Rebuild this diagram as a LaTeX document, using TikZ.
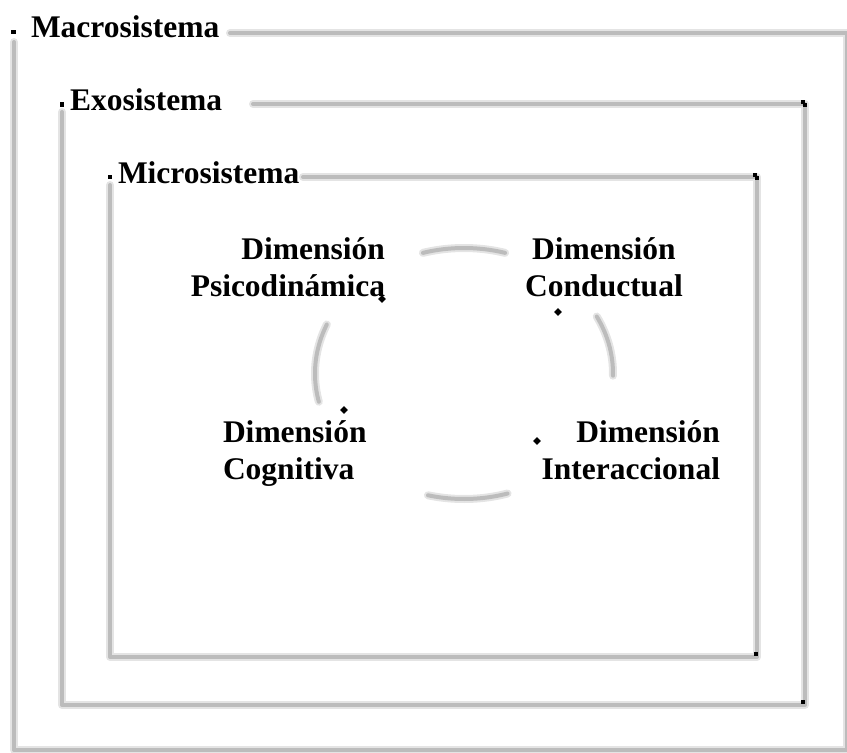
\documentclass[tikz,border=0pt]{standalone}
\usepackage{fontspec}
\setmainfont{Liberation Serif}
\definecolor{lnCore}{RGB}{188,188,188}
\definecolor{lnHalo}{RGB}{228,228,228}
\begin{document}
\begin{tikzpicture}[x=1pt,y=-1pt,
  frame/.style={draw=lnCore, line width=4pt, line join=round, line cap=round,
    preaction={draw=lnHalo, line width=8pt, line join=round, line cap=round}},
  ttl/.style={font=\fontsize{31.5}{37}\selectfont\bfseries, inner sep=0pt, outer sep=0pt},
  sq/.style={fill=black, draw=none, inner sep=0pt, minimum size=4.5pt},
  dia/.style={fill=black, draw=none, inner sep=0pt, minimum size=5.5pt, rotate=45},
]
\useasboundingbox (0,0) rectangle (847,753);

% corner coordinates
\coordinate (maTR) at (847,33);
\coordinate (maBL) at (14,750); \coordinate (maBR) at (847,750);
\coordinate (exTR) at (805,104);
\coordinate (exBL) at (62,705); \coordinate (exBR) at (805,705);
\coordinate (miTR) at (757,177);
\coordinate (miBL) at (110,657); \coordinate (miBR) at (757,657);

% frames
\draw[frame] (230,33) -- (maTR) -- (maBR) -- (maBL) -- (14,42);
\draw[frame] (253,104) -- (exTR) -- (exBR) -- (exBL) -- (62,112);
\draw[frame] (303,177) -- (miTR) -- (miBR) -- (miBL) -- (110,185);

% arcs
\draw[frame] plot[domain=74:106, variable=\t, samples=25, smooth] ({464+149*cos(\t)},{373.5-125.5*sin(\t)});
\draw[frame] plot[domain=-1:27, variable=\t, samples=25, smooth] ({464+149*cos(\t)},{373.5-125.5*sin(\t)});
\draw[frame] plot[domain=157:193, variable=\t, samples=25, smooth] ({464+149*cos(\t)},{373.5-125.5*sin(\t)});
\draw[frame] plot[domain=256:287, variable=\t, samples=25, smooth] ({464+149*cos(\t)},{373.5-125.5*sin(\t)});

% titles
\node[ttl, anchor=base west] (macro) at (31,37) {Macrosistema};
\node[ttl, anchor=base west] (exo) at (70,110) {Exosistema};
\node[ttl, anchor=base west] (micro) at (118,183) {Microsistema};

% dimensions (base = baseline of last line)
\node[ttl, align=right, anchor=base east] (psi) at (385,296) {Dimensión\\Psicodinámica};
\node[ttl, align=center, anchor=base] (con) at (604,296) {Dimensión\\Conductual};
\node[ttl, align=left, anchor=base west] (cog) at (223,479) {Dimensión\\Cognitiva};
\node[ttl, align=right, anchor=base east] (int) at (720,479) {Dimensión\\Interaccional};

% black marks
\node[sq] (m1) at (13.5,32) {};
\node[sq] (m2) at (62,104.5) {};
\node[sq] (m3) at (110,177) {};
\node[sq] (m4) at (803,102) {};
\node[sq] (m5) at (805,105) {};
\node[sq] (m6) at (755,175) {};
\node[sq] (m7) at (757,178) {};
\node[sq] (m8) at (756,654) {};
\node[sq] (m9) at (803,702) {};
\node[dia] (d1) at (382,299) {};
\node[dia] (d2) at (558,312) {};
\node[dia] (d3) at (344,410) {};
\node[dia] (d4) at (537,441) {};
\end{tikzpicture}
\end{document}
